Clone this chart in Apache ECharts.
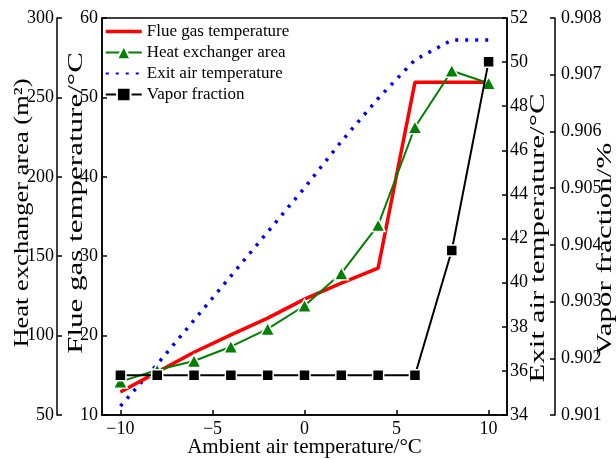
<!DOCTYPE html>
<html>
<head>
<meta charset="utf-8">
<script src="https://cdn.jsdelivr.net/npm/echarts@6/dist/echarts.min.js"></script>
<style>
  html, body { margin: 0; padding: 0; background: #fff; }
  #chart { width: 616px; height: 459px; }
</style>
</head>
<body>
<div id="chart"></div>
<script>
// Ambient air temperature (°C) at each simulated operating point
const ambientTemps = [-10, -8, -6, -4, -2, 0, 2, 4, 6, 8, 10];
// Flue gas outlet temperature (°C)
const flueGasTemp = [12.9, 15.4, 17.9, 20.1, 22.2, 24.6, 26.6, 28.5, 51.9, 51.9, 51.9];
// Heat exchanger area (m²)
const heatExchangerArea = [71, 78.3, 84, 93, 104.2, 118.8, 139.2, 169.6, 231.2, 266.8, 258.9];
// Exit air temperature (°C)
const exitAirTemp = [34.4, 36.3, 38.3, 40.3, 42.3, 44.3, 46.4, 48.35, 50.1, 51.0, 51.0];
// Vapor fraction
const vaporFraction = [0.9017, 0.9017, 0.9017, 0.9017, 0.9017, 0.9017, 0.9017, 0.9017, 0.9017, 0.9039, 0.90723];
// Labelled ticks on the ambient temperature axis
const xTickValues = [-10, -5, 0, 5, 10];
// Vertical axis titles
const axisTitles = ['Heat exchanger area (m²)', 'Flue gas temperature/°C', 'Exit air temperature/°C', 'Vapor fraction/%'];

const serif = 'Liberation Serif';
const black = '#000';

const pairs = (ys) => ambientTemps.map((x, i) => [x, ys[i]]);
const minus = (s) => String(s).replace('-', '\u2212');

function valueAxis(extra) {
  return Object.assign({
    type: 'value',
    axisLine: { show: true, onZero: false, lineStyle: { color: black, width: 1.5 } },
    axisTick: { show: true, inside: true, length: 5, lineStyle: { color: black, width: 1.5 } },
    axisLabel: { color: black, fontFamily: serif, fontSize: 18, margin: 4 },
    splitLine: { show: false }
  }, extra);
}

// Rotated title text, condensed across its height
function verticalTitle(text, cx, cy, size, squeeze) {
  return {
    type: 'text',
    x: cx, y: cy,
    rotation: Math.PI / 2,
    scaleX: 1, scaleY: squeeze,
    style: {
      text: text,
      fill: black,
      fontSize: size,
      fontFamily: serif,
      align: 'center', verticalAlign: 'middle',
      textAlign: 'center', textVerticalAlign: 'middle'
    }
  };
}

const chart = echarts.init(document.getElementById('chart'), null, { renderer: 'canvas' });

chart.setOption({
  animation: false,
  backgroundColor: '#fff',
  grid: {
    left: 102, right: 109, top: 18, bottom: 44,
    outerBoundsMode: 'none',
    containLabel: false,
    show: true, borderColor: black, borderWidth: 1.5, backgroundColor: 'transparent'
  },
  legend: {
    orient: 'vertical',
    left: 104, top: 23,
    padding: 0,
    itemWidth: 36, itemHeight: 17, itemGap: 4,
    textStyle: { color: black, fontFamily: serif, fontSize: 17 },
    data: [
      { name: 'Flue gas temperature', itemStyle: { opacity: 0 }, lineStyle: { width: 3.5 } },
      { name: 'Heat exchanger area' },
      { name: 'Exit air temperature', itemStyle: { opacity: 0 } },
      { name: 'Vapor fraction' }
    ]
  },
  graphic: [
    verticalTitle(axisTitles[0], 22, 213, 26.5, 0.8),
    verticalTitle(axisTitles[1], 76, 203, 31, 0.68),
    verticalTitle(axisTitles[2], 538, 238, 31, 0.68),
    verticalTitle(axisTitles[3], 605, 249, 31, 0.68)
  ],
  xAxis: valueAxis({
    min: -11, max: 11,
    axisTick: { show: true, inside: true, length: 5, customValues: xTickValues, lineStyle: { color: black, width: 1.5 } },
    axisLabel: { color: black, fontFamily: serif, fontSize: 18, margin: 5, customValues: xTickValues, formatter: minus },
    name: 'Ambient air temperature/°C',
    nameLocation: 'middle',
    nameGap: 22,
    nameMoveOverlap: false,
    nameTextStyle: { color: black, fontFamily: serif, fontSize: 21 }
  }),
  yAxis: [
    valueAxis({ position: 'left', offset: 0, min: 10, max: 60, interval: 10 }),
    valueAxis({
      position: 'left', offset: 45, min: 50, max: 300, interval: 50,
      axisLabel: { color: black, fontFamily: serif, fontSize: 18, margin: 3 }
    }),
    valueAxis({
      position: 'right', offset: 0, min: 34, max: 52, interval: 2,
      axisLabel: { color: black, fontFamily: serif, fontSize: 18, margin: 3 }
    }),
    valueAxis({
      position: 'right', offset: 48, min: 0.901, max: 0.908, interval: 0.001,
      axisLabel: { color: black, fontFamily: serif, fontSize: 18, margin: 6, formatter: (v) => v.toFixed(3) }
    })
  ],
  series: [
    {
      name: 'Flue gas temperature', type: 'line', yAxisIndex: 0,
      data: pairs(flueGasTemp),
      symbol: 'none',
      lineStyle: { color: '#ff0000', width: 3.5 },
      itemStyle: { color: '#ff0000' },
      z: 3
    },
    {
      name: 'Heat exchanger area', type: 'line', yAxisIndex: 1,
      data: pairs(heatExchangerArea),
      symbol: 'triangle', symbolSize: [14, 13],
      lineStyle: { color: '#008000', width: 2 },
      itemStyle: { color: '#008000', borderColor: '#fff', borderWidth: 1.5 },
      z: 4
    },
    {
      name: 'Exit air temperature', type: 'line', yAxisIndex: 2,
      data: pairs(exitAirTemp),
      symbol: 'none',
      lineStyle: { color: '#0000ff', width: 3.5, type: [3, 7], cap: 'butt' },
      itemStyle: { color: '#0000ff' },
      z: 2
    },
    {
      name: 'Vapor fraction', type: 'line', yAxisIndex: 3,
      data: pairs(vaporFraction),
      symbol: 'rect', symbolSize: 11,
      lineStyle: { color: black, width: 2 },
      itemStyle: { color: black, borderColor: '#fff', borderWidth: 1.5 },
      z: 5
    }
  ]
});
</script>
</body>
</html>
